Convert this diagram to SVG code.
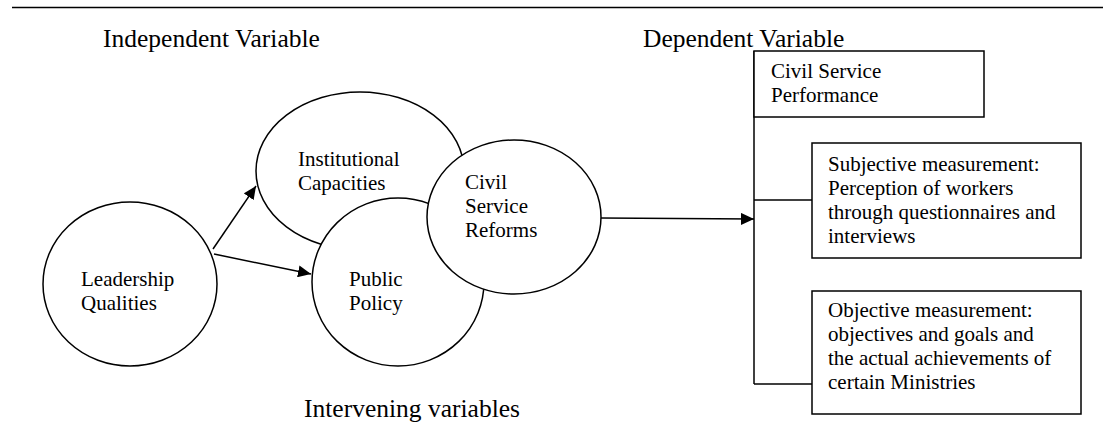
<svg xmlns="http://www.w3.org/2000/svg" width="1103" height="429" viewBox="0 0 1103 429">
<style>
text{font-family:"Liberation Serif","Times New Roman",serif;fill:#000}
.h{font-size:25.5px}
.t{font-size:21px}
.sh{fill:#fff;stroke:#000;stroke-width:1.5}
.ln{fill:none;stroke:#000;stroke-width:1.5}
</style>
<defs>
<marker id="ah" markerUnits="userSpaceOnUse" markerWidth="14" markerHeight="12" refX="13" refY="6" orient="auto">
<path d="M0,0 L13,6 L0,12 Z" fill="#000"/>
</marker>
</defs>
<rect width="1103" height="429" fill="#fff"/>
<line x1="12" y1="7.5" x2="1103" y2="7.5" stroke="#000" stroke-width="1.5"/>
<text class="h" x="103" y="47">Independent Variable</text>
<text class="h" x="643" y="47">Dependent Variable</text>
<text class="h" x="304" y="417">Intervening variables</text>
<g id="connectors">
<line class="ln" x1="754" y1="51" x2="754" y2="384"/>
<line class="ln" x1="754" y1="200" x2="812" y2="200"/>
<line class="ln" x1="754" y1="384" x2="812" y2="384"/>
<line class="ln" x1="213" y1="249" x2="256" y2="186" marker-end="url(#ah)"/>
<line class="ln" x1="214" y1="254" x2="311" y2="274" marker-end="url(#ah)"/>
<line class="ln" x1="601" y1="218" x2="754" y2="219" marker-end="url(#ah)"/>
</g>
<g id="leadership">
<ellipse class="sh" cx="130" cy="284" rx="87" ry="82"/>
<text class="t" x="81" y="286">Leadership</text>
<text class="t" x="81" y="310">Qualities</text>
</g>
<g id="institutional">
<ellipse class="sh" cx="360" cy="171" rx="104" ry="79"/>
<text class="t" x="298" y="166">Institutional</text>
<text class="t" x="298" y="190">Capacities</text>
</g>
<g id="publicpolicy">
<ellipse class="sh" cx="398" cy="282" rx="86" ry="84"/>
<text class="t" x="349" y="286">Public</text>
<text class="t" x="349" y="310">Policy</text>
</g>
<g id="reforms">
<ellipse class="sh" cx="514" cy="217" rx="87" ry="77"/>
<text class="t" x="465" y="189">Civil</text>
<text class="t" x="465" y="213">Service</text>
<text class="t" x="465" y="237">Reforms</text>
</g>
<g id="performance">
<rect class="sh" x="754" y="51" width="230" height="66"/>
<text class="t" x="771" y="78">Civil Service</text>
<text class="t" x="771" y="102">Performance</text>
</g>
<g id="subjective">
<rect class="sh" x="812" y="143" width="269" height="115"/>
<text class="t" x="828" y="171">Subjective measurement:</text>
<text class="t" x="828" y="195">Perception of workers</text>
<text class="t" x="828" y="219">through questionnaires and</text>
<text class="t" x="828" y="243">interviews</text>
</g>
<g id="objective">
<rect class="sh" x="812" y="291" width="269" height="123"/>
<text class="t" x="828" y="317">Objective measurement:</text>
<text class="t" x="828" y="341">objectives and goals and</text>
<text class="t" x="828" y="365">the actual achievements of</text>
<text class="t" x="828" y="389">certain Ministries</text>
</g>
</svg>
